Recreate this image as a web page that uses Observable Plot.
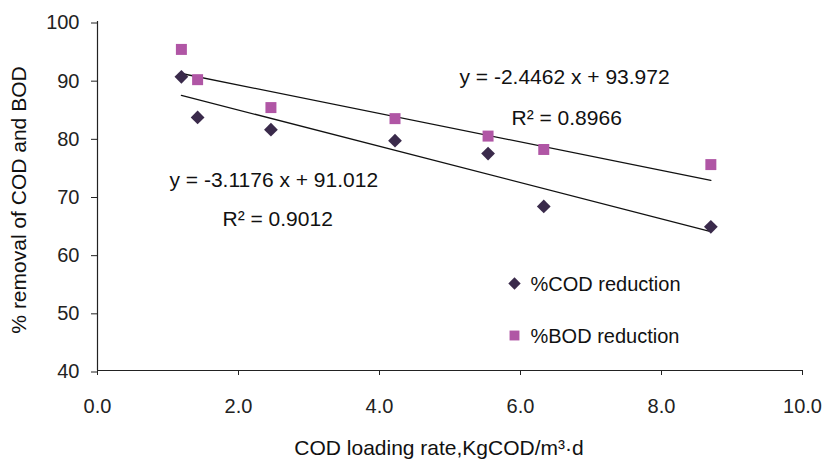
<!DOCTYPE html>
<html><head><meta charset="utf-8">
<script src="https://cdn.jsdelivr.net/npm/d3@7"></script>
<script src="https://cdn.jsdelivr.net/npm/@observablehq/plot@0.6"></script>
<style>
html,body{margin:0;padding:0;background:#fff;}
</style>
</head><body>
<div id="chart"></div>
<script>
// COD loading rate (KgCOD/m3·d) and removal efficiencies (%)
const loadingRate  = [1.19, 1.42, 2.46, 4.22, 5.54, 6.33, 8.70];
const codReduction = [90.5, 83.5, 81.4, 79.5, 77.3, 68.2, 64.7];
const bodReduction = [95.2, 90.0, 85.2, 83.3, 80.3, 78.0, 75.4];
const seriesNames  = ["%COD reduction", "%BOD reduction"];

// Linear trend lines: y = slope·x + intercept
const fitSlope     = [-3.1176, -2.4462];
const fitIntercept = [91.012, 93.972];
const fitR2        = ["0.9012", "0.8966"];

const xTicks = [0, 2, 4, 6, 8, 10];
const yTicks = [40, 50, 60, 70, 80, 90, 100];

const colors = ["#3a2a4b", "#b056a5"];
const symbols = ["diamond2", "square"];
const radius = [6.2, 6.2];

const cod = loadingRate.map((x, i) => ({x, y: codReduction[i]}));
const bod = loadingRate.map((x, i) => ({x, y: bodReduction[i]}));
const xr = d3.extent(loadingRate);
const fitLine = (k) => xr.map(x => ({x, y: fitSlope[k] * x + fitIntercept[k]}));
const eqText = (k) => `y = ${fitSlope[k]} x + ${fitIntercept[k]}`;
const r2Text = (k) => `R² = ${fitR2[k]}`;

const font = "'Liberation Sans', Arial, sans-serif";
const ink = "#222";

const chart = Plot.plot({
  width: 835,
  height: 460,
  marginLeft: 97,
  marginRight: 33,
  marginTop: 21,
  marginBottom: 90,
  style: {fontFamily: font, fontSize: "20px", color: ink, background: "#fff"},
  x: {domain: [0, 10]},
  y: {domain: [40, 100]},
  marks: [
    Plot.axisX({ticks: xTicks, tickFormat: d3.format(".1f"), tickSize: 5, tickPadding: 23,
                fontSize: 20, label: null, stroke: ink}),
    Plot.axisY({ticks: yTicks, tickSize: 6, tickPadding: 12, fontSize: 20, label: null,
                stroke: ink, dy: 1.5}),
    Plot.ruleX([0], {stroke: ink, strokeWidth: 1.2}),
    Plot.ruleY([40], {stroke: ink, strokeWidth: 1.2}),

    // trend lines
    Plot.line(fitLine(0), {x: "x", y: "y", stroke: "#111", strokeWidth: 1.3}),
    Plot.line(fitLine(1), {x: "x", y: "y", stroke: "#111", strokeWidth: 1.3}),

    // observations
    Plot.dot(bod, {x: "x", y: "y", symbol: symbols[1], fill: colors[1], r: radius[1]}),
    Plot.dot(cod, {x: "x", y: "y", symbol: symbols[0], fill: colors[0], r: radius[0]}),

    // regression annotations
    Plot.text([eqText(1)], {frameAnchor: "top-left", textAnchor: "start", lineAnchor: "middle",
                            dx: 362, dy: 56, fontSize: 21, fill: "#111"}),
    Plot.text([r2Text(1)], {frameAnchor: "top-left", textAnchor: "start", lineAnchor: "middle",
                            dx: 414, dy: 97, fontSize: 21, fill: "#111"}),
    Plot.text([eqText(0)], {frameAnchor: "top-left", textAnchor: "start", lineAnchor: "middle",
                            dx: 72, dy: 159, fontSize: 21, fill: "#111"}),
    Plot.text([r2Text(0)], {frameAnchor: "top-left", textAnchor: "start", lineAnchor: "middle",
                            dx: 125, dy: 198, fontSize: 21, fill: "#111"}),

    // legend
    Plot.dot([0], {frameAnchor: "top-left", dx: 417, dy: 262, symbol: symbols[0], fill: colors[0], r: radius[0] * 0.9}),
    Plot.text([seriesNames[0]], {frameAnchor: "top-left", textAnchor: "start", lineAnchor: "middle",
                                 dx: 433, dy: 263, fontSize: 20, fill: "#111"}),
    Plot.dot([0], {frameAnchor: "top-left", dx: 417, dy: 314, symbol: symbols[1], fill: colors[1], r: radius[1] * 0.9}),
    Plot.text([seriesNames[1]], {frameAnchor: "top-left", textAnchor: "start", lineAnchor: "middle",
                                 dx: 433, dy: 315, fontSize: 20, fill: "#111"}),

    // axis titles
    Plot.text(["COD loading rate,KgCOD/m³·d"], {frameAnchor: "bottom", textAnchor: "middle", lineAnchor: "middle",
                                                dx: -11, dy: 78, fontSize: 21, fill: "#111"}),
    Plot.text(["% removal of COD and BOD"], {frameAnchor: "left", textAnchor: "middle", lineAnchor: "middle",
                                             rotate: -90, dx: -78, dy: 4, fontSize: 21, fill: "#111"})
  ]
});

document.getElementById("chart").appendChild(chart);
</script>
</body></html>
